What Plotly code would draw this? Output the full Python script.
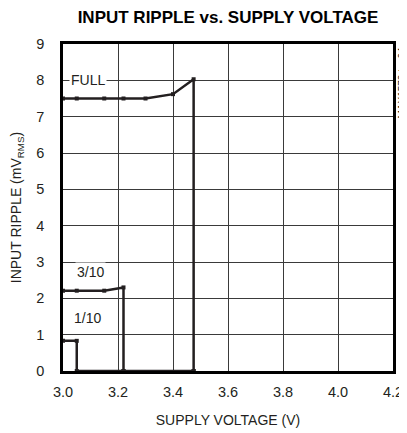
import plotly.graph_objects as go

# Data
full_v = [3.0, 3.05, 3.15, 3.22, 3.30, 3.40, 3.475, 3.475]
full_r = [7.5, 7.5, 7.5, 7.5, 7.5, 7.62, 8.03, 0.0]

r3_v = [3.0, 3.05, 3.15, 3.22, 3.22, 3.475]
r3_r = [2.21, 2.21, 2.21, 2.30, 0.0, 0.0]

r1_v = [3.0, 3.05, 3.05, 3.22]
r1_r = [0.83, 0.83, 0.0, 0.0]

series = [("FULL", full_v, full_r), ("3/10", r3_v, r3_r), ("1/10", r1_v, r1_r)]

x_ticks = [3.0, 3.2, 3.4, 3.6, 3.8, 4.0, 4.2]
x_tick_text = ["3.0", "3.2", "3.4", "3.6", "3.8", "4.0", "4.2"]
y_ticks = list(range(0, 10))

FONT = "Liberation Sans, Arial, sans-serif"
INK = "#231f20"

fig = go.Figure()
for name, xs, ys in series:
    fig.add_trace(go.Scatter(
        x=xs, y=ys, mode="lines+markers", name=name,
        line=dict(color=INK, width=2.5),
        marker=dict(color=INK, size=4, symbol="square"),
        showlegend=False,
    ))

annots = [
    dict(x=3.09, y=8.02, text="FULL", bgcolor="white"),
    dict(x=3.1, y=2.72, text="3/10", bgcolor="white"),
    dict(x=3.09, y=1.45, text="1/10", bgcolor="rgba(0,0,0,0)"),
]
for a in annots:
    fig.add_annotation(x=a["x"], y=a["y"], text=a["text"], showarrow=False,
                       xref="x", yref="y", bgcolor=a["bgcolor"], borderpad=1,
                       font=dict(family=FONT, size=14, color=INK))

fig.add_annotation(x=1.0, y=1.0, xref="paper", yref="paper", xanchor="left", yanchor="top",
                   xshift=1, yshift=-1, text="MAX1573 toc04", textangle=-90, showarrow=False,
                   font=dict(family=FONT, size=10, color=INK))

# The page body adds an 8px margin, so the figure is sized and offset to fit the window.
fig.update_layout(
    width=399, height=425,
    margin=dict(l=55, r=14, t=36, b=62),
    paper_bgcolor="white", plot_bgcolor="white",
    title=dict(text="<b>INPUT RIPPLE vs. SUPPLY VOLTAGE</b>", xref="paper", x=0.5,
               xanchor="center", yref="container", y=0.979, yanchor="middle",
               font=dict(family=FONT, size=17, color="black")),
    font=dict(family=FONT, color=INK),
)
fig.update_xaxes(range=[3.0, 4.2], tickvals=x_ticks, ticktext=x_tick_text,
                 showgrid=True, gridcolor="#3a3a3a", gridwidth=1,
                 showline=True, linecolor="black", linewidth=2.5, mirror=True,
                 ticks="", zeroline=False, tickfont=dict(size=14.5), automargin=False,
                 ticklabelstandoff=6,
                 title=dict(text="SUPPLY VOLTAGE (V)", font=dict(size=14), standoff=17))
fig.update_yaxes(range=[0, 9], tickvals=y_ticks,
                 showgrid=True, gridcolor="#3a3a3a", gridwidth=1,
                 showline=True, linecolor="black", linewidth=2.5, mirror=True,
                 ticks="", zeroline=False, tickfont=dict(size=14.5), ticklabelstandoff=13,
                 automargin=False,
                 title=dict(text="INPUT RIPPLE (mV<sub>RMS</sub>)", font=dict(size=14), standoff=14))

fig.write_html("out.html")
